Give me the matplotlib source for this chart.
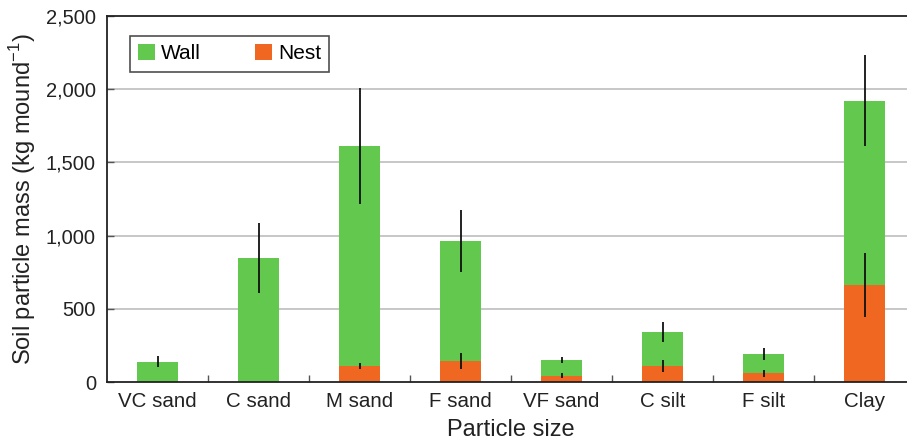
import numpy as np
import matplotlib.pyplot as plt
from matplotlib.ticker import FuncFormatter, FixedLocator

# ---- DADOS ----
categories = ["VC sand", "C sand", "M sand", "F sand", "VF sand", "C silt", "F silt", "Clay"]
nest = [0, 0, 113, 147, 45, 113, 63, 664]
wall = [140, 848, 1497, 817, 107, 230, 130, 1256]
nest_err = [0, 0, 19, 53, 18, 41, 24, 218]
total_err = [36, 240, 395, 210, 18, 65, 41, 311]

green = "#62c84e"
orange = "#ef6721"

plt.rcParams['font.family'] = ['Liberation Sans', 'DejaVu Sans']

fig = plt.figure(figsize=(9.07, 4.44), dpi=100)
ax = fig.add_axes([0.118, 0.139, 0.891, 0.8255])

x = np.arange(len(categories))
total = np.array(nest) + np.array(wall)
w = 0.41

ax.bar(x, nest, w, color=orange, zorder=2, label="Nest")
ax.bar(x, wall, w, bottom=nest, color=green, zorder=2, label="Wall")

# barras de erro (total da parede e ninho)
ax.errorbar(x, total, yerr=total_err, fmt="none", ecolor="#111111", elinewidth=1.3, capsize=0, zorder=3)
has_nest = np.array(nest) > 0
ax.errorbar(x[has_nest], np.array(nest)[has_nest], yerr=np.array(nest_err)[has_nest],
            fmt="none", ecolor="#111111", elinewidth=1.3, capsize=0, zorder=3)

ax.set_xlim(-0.5, 7.5)
ax.set_ylim(0, 2500)
ax.set_yticks(np.arange(0, 2501, 500))
ax.yaxis.set_major_formatter(FuncFormatter(lambda v, p: f"{int(v):,}"))
for yv in range(500, 2500, 500):
    ax.axhline(yv, color="#bdbdbd", lw=1.2, zorder=1)

ax.xaxis.set_major_locator(FixedLocator(np.arange(0.5, 7.5, 1)))
ax.xaxis.set_minor_locator(FixedLocator(x))
ax.set_xticklabels([])
ax.set_xticklabels(categories, minor=True)
ax.tick_params(axis="x", which="major", direction="in", length=5, width=1, color="#555555")
ax.tick_params(axis="x", which="minor", length=0, pad=7, labelsize=14.8, labelcolor="#222222")
ax.tick_params(axis="y", direction="in", length=5, width=1, color="#555555", pad=8,
               labelsize=14.5, labelcolor="#222222")

for s in ["left", "bottom", "top"]:
    ax.spines[s].set_color("#222222")
    ax.spines[s].set_linewidth(1.3)
ax.spines["right"].set_visible(False)

ax.set_xlabel("Particle size", fontsize=17, color="#222222", labelpad=6)
ax.set_ylabel(r"Soil particle mass (kg mound$^{\mathregular{-1}}$)", fontsize=17, color="#222222", labelpad=6)

handles, labels = ax.get_legend_handles_labels()
leg = ax.legend(handles[::-1], labels[::-1], loc="upper left", bbox_to_anchor=(0.028, 0.945),
                ncol=2, frameon=True, fancybox=False, edgecolor="#222222", fontsize=15,
                handlelength=0.8, handleheight=0.8, handletextpad=0.3, columnspacing=2.6,
                borderpad=0.4, borderaxespad=0)
leg.get_frame().set_linewidth(1.2)

plt.savefig("out.png", dpi=100)
